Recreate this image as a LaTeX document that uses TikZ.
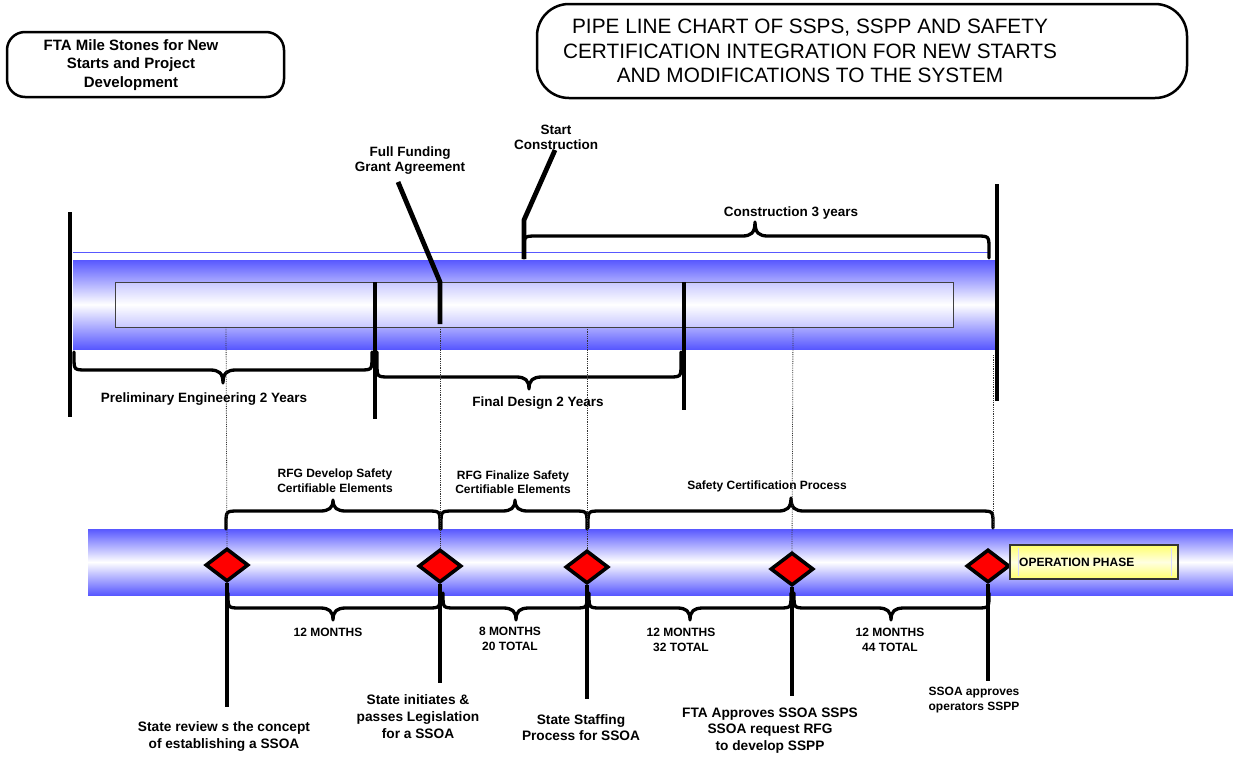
\documentclass[tikz,border=0pt]{standalone}
\usepackage{fontspec}
\setmainfont{Liberation Sans}
\usetikzlibrary{shapes.geometric}
\definecolor{pipeblue}{RGB}{88,88,255}
\definecolor{paleblue}{RGB}{200,200,255}
\definecolor{operyellow}{RGB}{255,255,110}
\tikzset{
  bar/.style={line width=4.8pt},
  stem/.style={line width=4pt},
  bracestyle/.style={line width=3.3pt, line join=round, line cap=round},
  guide/.style={densely dotted, line width=0.8pt, black!80},
  dia/.style={diamond, draw=black, fill=red, line width=3.6pt, minimum width=43pt, minimum height=33pt, inner sep=0pt},
  toplbl/.style={font=\bfseries\fontsize{13.5}{15}\selectfont, align=center, inner sep=0pt},
  smalllbl/.style={font=\bfseries\fontsize{12}{14.5}\selectfont, align=center, inner sep=0pt},
  botlbl/.style={font=\bfseries\fontsize{13.7}{16.8}\selectfont, align=center, inner sep=0pt},
  box/.style={draw=black, line width=2.5pt, inner sep=0pt}
}
\newcommand\mybrace[7]{%
  \draw[bracestyle] (#1,#3) -- ({#1},{#4-(#7)*13}) .. controls (#1,#4) .. ({#1+13},#4)
   -- ({#5-13},#4) .. controls ({#5-4},#4) and (#5,{#4+(#7)*3}) .. (#5,#6)
   .. controls (#5,{#4+(#7)*3}) and ({#5+4},#4) .. ({#5+13},#4)
   -- ({#2-13},#4) .. controls (#2,#4) .. ({#2},{#4-(#7)*13}) -- (#2,#3);}
\begin{document}
\begin{tikzpicture}[x=1pt,y=-1pt]
\useasboundingbox (0,0) rectangle (1233,782);

% header boxes
\node[box, rounded corners=18pt, minimum width=277pt, minimum height=65pt] (ftabox) at (145.5,64.5) {};
\node[font=\bfseries\fontsize{15}{18.7}\selectfont, align=center, inner sep=0pt] (ftatext) at (131,65) {FTA Mile Stones for New\\Starts and Project\\Development};
\node[box, rounded corners=32pt, minimum width=650pt, minimum height=94pt] (titlebox) at (862,51) {};
\node[font=\fontsize{20.8}{24.3}\selectfont, align=center, inner sep=0pt] (titletext) at (810,51) {PIPE LINE CHART OF SSPS, SSPP AND SAFETY\\CERTIFICATION INTEGRATION FOR NEW STARTS\\AND MODIFICATIONS TO THE SYSTEM};

% top pipe
\draw[pipeblue, line width=1pt] (73,252) -- (988,252);
\path[top color=pipeblue, bottom color=pipeblue, middle color=white] (73,260) rectangle (995,349);
\draw[black!75, line width=0.8pt, top color=paleblue, bottom color=paleblue, middle color=white] (115,282) rectangle (953,327);

% bottom pipe
\path[top color=pipeblue, bottom color=pipeblue, middle color=white] (88,529) rectangle (1233,595);

% vertical bars of the top pipe
\draw[bar] (70,212) -- (70,417);
\draw[bar] (375,282) -- (375,419);
\draw[bar] (684,282) -- (684,410);
\draw[bar] (997,184) -- (997,401);
\draw[bar, line join=round] (398,182) -- (440,282) -- (440,324);
\draw[bar, line join=round] (555,150) -- (524,220) -- (524,259);

% braces of the top pipe
\mybrace{524}{989}{258}{236}{755}{222}{-1}
\mybrace{74}{372}{352}{370}{223}{383}{1}
\mybrace{377}{681}{352}{377}{529}{389}{1}

% braces of the bottom pipe
\mybrace{226}{440}{529}{511}{333}{500}{-1}
\mybrace{441}{587}{529}{511}{515}{500}{-1}
\mybrace{588}{993}{528}{511}{791}{498}{-1}
\mybrace{228}{440}{593}{608}{333}{620}{1}
\mybrace{443}{587}{593}{608}{516}{620}{1}
\mybrace{589}{791}{593}{608}{690}{620}{1}
\mybrace{794}{989}{593}{608}{891}{620}{1}

% milestones
\node[dia] (d1) at (227,565) {};
\node[dia] (d2) at (440,566) {};
\node[dia] (d3) at (587,567) {};
\node[dia] (d4) at (792,569) {};
\node[dia] (d5) at (988,566) {};

\coordinate (t1) at (226,327);
\coordinate (t2) at (440,327);
\coordinate (t3) at (587,327);
\coordinate (t4) at (793,327);
\coordinate (t5) at (993,355);
\coordinate (t5b) at (993,528);
\draw[guide] (t1) -- (d1.north);
\draw[guide] (t2) -- (d2.north);
\draw[guide] (t3) -- (d3.north);
\draw[guide] (t4) -- (d4.north);
\draw[guide] (t5) -- (t5b);

\coordinate (e1) at (227,707);
\coordinate (e2) at (440,683);
\coordinate (e3) at (587,699);
\coordinate (e4) at (792,696);
\coordinate (e5) at (988,681);
\draw[stem] (d1.south) -- (e1);
\draw[stem] (d2.south) -- (e2);
\draw[stem] (d3.south) -- (e3);
\draw[stem] (d4.south) -- (e4);
\draw[stem] (d5.south) -- (e5);

% operation phase
\node[draw=black!80, line width=1.5pt, top color=operyellow, bottom color=operyellow, middle color=yellow!12, minimum width=168pt, minimum height=34pt, inner sep=0pt] (oper) at (1094,562) {};
\draw[white!85!blue, line width=0.6pt] (1018,548) -- (1018,576) (1171,548) -- (1171,576);
\node[font=\bfseries\fontsize{12}{14}\selectfont, anchor=west, inner sep=0pt] (opertext) at (1019,562) {OPERATION PHASE};

% labels top
\node[toplbl] (ffga) at (410,161) {Full Funding\\Grant Agreement};
\node[toplbl] (startc) at (556,137.5) {Start\\Construction};
\node[toplbl] (constr) at (791,213) {Construction 3 years};
\node[toplbl] (prelim) at (204,399) {Preliminary Engineering 2 Years};
\node[toplbl] (final) at (538,403) {Final Design 2 Years};

% labels bottom pipe
\node[smalllbl] (rfgdev) at (335,480.5) {RFG Develop Safety\\Certifiable Elements};
\node[smalllbl] (rfgfin) at (513,482) {RFG Finalize Safety\\Certifiable Elements};
\node[smalllbl] (safcert) at (767,486) {Safety Certification Process};
\node[smalllbl] (m12) at (328,632) {12 MONTHS};
\node[smalllbl] (m8) at (510,639) {8 MONTHS\\20 TOTAL};
\node[smalllbl] (m32) at (681,640) {12 MONTHS\\32 TOTAL};
\node[smalllbl] (m44) at (890,640) {12 MONTHS\\44 TOTAL};

\node[botlbl] (l1) at (224,736.5) {State review s the concept\\of establishing a SSOA};
\node[botlbl] (l2) at (418,716.5) {State initiates \&\\passes Legislation\\for a SSOA};
\node[botlbl] (l3) at (581,727.5) {State Staffing\\Process for SSOA};
\node[botlbl] (l4) at (770,730.5) {FTA Approves SSOA SSPS\\SSOA request RFG\\to develop SSPP};
\node[font=\bfseries\fontsize{12}{15}\selectfont, align=center, inner sep=0pt] (l5) at (974,700.5) {SSOA approves\\operators SSPP};
\end{tikzpicture}
\end{document}
